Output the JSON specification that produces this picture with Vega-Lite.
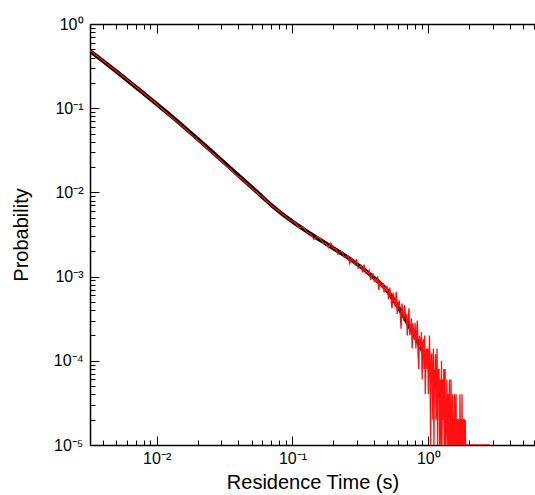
{
  "$schema": "https://vega.github.io/schema/vega-lite/v6.json",
  "width": 445,
  "height": 421,
  "autosize": {"type": "none"},
  "padding": {"left": 90, "top": 24, "right": 0, "bottom": 50},
  "background": "white",
  "config": {
    "view": {"stroke": null},
    "font": "Liberation Sans",
    "axis": {
      "grid": false,
      "domainColor": "black",
      "domainWidth": 1.5,
      "tickColor": "black",
      "tickWidth": 1,
      "labelColor": "black",
      "titleColor": "black",
      "labelFont": "Liberation Sans",
      "titleFont": "Liberation Sans",
      "labelFontSize": 16,
      "titleFontSize": 20,
      "titleFontWeight": "normal",
      "labelFlush": false,
      "labelOverlap": false
    }
  },
  "datasets": {
    "fit": [
      {"t": 0.003228, "p": 0.4775},
      {"t": 0.004932, "p": 0.2818},
      {"t": 0.007534, "p": 0.1626},
      {"t": 0.01318, "p": 0.0776},
      {"t": 0.02339, "p": 0.0346},
      {"t": 0.04102, "p": 0.01536},
      {"t": 0.05478, "p": 0.01011},
      {"t": 0.07178, "p": 0.0068},
      {"t": 0.1007, "p": 0.004452},
      {"t": 0.1346, "p": 0.003251},
      {"t": 0.1986, "p": 0.002188},
      {"t": 0.2786, "p": 0.001532},
      {"t": 0.3917, "p": 0.000989},
      {"t": 0.4966, "p": 0.000685},
      {"t": 0.6194, "p": 0.000401},
      {"t": 0.7709, "p": 0.000214},
      {"t": 0.9772, "p": 0.0001023},
      {"t": 1.159, "p": 0.0000489},
      {"t": 1.327, "p": 0.0000261},
      {"t": 1.496, "p": 0.0000143},
      {"t": 1.574, "p": 0.0000109}
    ],
    "data": [
      {"t": 0.0032, "p": 0.49}, {"t": 0.0064, "p": 0.203}, {"t": 0.0096, "p": 0.1185}, {"t": 0.0128, "p": 0.0787},
      {"t": 0.016, "p": 0.0584}, {"t": 0.0192, "p": 0.0444}, {"t": 0.0224, "p": 0.0361}, {"t": 0.0256, "p": 0.0293},
      {"t": 0.0288, "p": 0.0251}, {"t": 0.032, "p": 0.0211}, {"t": 0.0352, "p": 0.0187}, {"t": 0.0384, "p": 0.0161},
      {"t": 0.0416, "p": 0.0149}, {"t": 0.0448, "p": 0.0132}, {"t": 0.048, "p": 0.0121}, {"t": 0.0512, "p": 0.0108},
      {"t": 0.0544, "p": 0.0101}, {"t": 0.0576, "p": 0.0092}, {"t": 0.0608, "p": 0.0087}, {"t": 0.064, "p": 0.0079},
      {"t": 0.0672, "p": 0.0075}, {"t": 0.0704, "p": 0.0069}, {"t": 0.0736, "p": 0.0066}, {"t": 0.0768, "p": 0.0062},
      {"t": 0.08, "p": 0.006}, {"t": 0.0832, "p": 0.0056}, {"t": 0.0864, "p": 0.0054}, {"t": 0.0896, "p": 0.0051},
      {"t": 0.0928, "p": 0.0049}, {"t": 0.096, "p": 0.0047}, {"t": 0.0992, "p": 0.0046},
      {"t": 0.104, "p": 0.00438}, {"t": 0.112, "p": 0.0038}, {"t": 0.12, "p": 0.00388}, {"t": 0.128, "p": 0.00336},
      {"t": 0.136, "p": 0.00322}, {"t": 0.144, "p": 0.00277}, {"t": 0.152, "p": 0.00297}, {"t": 0.16, "p": 0.00285},
      {"t": 0.168, "p": 0.00248}, {"t": 0.176, "p": 0.00249}, {"t": 0.184, "p": 0.00221}, {"t": 0.192, "p": 0.0025},
      {"t": 0.2, "p": 0.00215}, {"t": 0.208, "p": 0.00216}, {"t": 0.216, "p": 0.00184}, {"t": 0.224, "p": 0.00197},
      {"t": 0.232, "p": 0.00199}, {"t": 0.24, "p": 0.0017}, {"t": 0.248, "p": 0.00172}, {"t": 0.256, "p": 0.00178},
      {"t": 0.264, "p": 0.00143}, {"t": 0.272, "p": 0.00165}, {"t": 0.28, "p": 0.00155}, {"t": 0.288, "p": 0.00142},
      {"t": 0.296, "p": 0.00157}, {"t": 0.304, "p": 0.00126}, {"t": 0.312, "p": 0.00132}, {"t": 0.32, "p": 0.00136},
      {"t": 0.328, "p": 0.00112}, {"t": 0.336, "p": 0.00139}, {"t": 0.344, "p": 0.00111}, {"t": 0.352, "p": 0.00116},
      {"t": 0.36, "p": 0.00108}, {"t": 0.368, "p": 0.00118}, {"t": 0.376, "p": 0.000912}, {"t": 0.384, "p": 0.00106},
      {"t": 0.392, "p": 0.00108}, {"t": 0.4, "p": 0.000885}, {"t": 0.408, "p": 0.000943}, {"t": 0.416, "p": 0.000847},
      {"t": 0.424, "p": 0.001007}, {"t": 0.432, "p": 0.000694}, {"t": 0.44, "p": 0.000869}, {"t": 0.448, "p": 0.000818},
      {"t": 0.456, "p": 0.000751}, {"t": 0.464, "p": 0.000842}, {"t": 0.472, "p": 0.000649}, {"t": 0.48, "p": 0.000766},
      {"t": 0.488, "p": 0.000663}, {"t": 0.496, "p": 0.000776},
      {"t": 0.5, "p": 0.00072}, {"t": 0.51, "p": 0.00054}, {"t": 0.52, "p": 0.00074}, {"t": 0.53, "p": 0.00058},
      {"t": 0.54, "p": 0.00042}, {"t": 0.55, "p": 0.00064}, {"t": 0.56, "p": 0.00056}, {"t": 0.57, "p": 0.00044},
      {"t": 0.58, "p": 0.00066}, {"t": 0.59, "p": 0.00036}, {"t": 0.6, "p": 0.00046}, {"t": 0.61, "p": 0.00052},
      {"t": 0.62, "p": 0.00038}, {"t": 0.63, "p": 0.00024}, {"t": 0.64, "p": 0.00048}, {"t": 0.65, "p": 0.00038},
      {"t": 0.66, "p": 0.0003}, {"t": 0.67, "p": 0.00046}, {"t": 0.68, "p": 0.00032}, {"t": 0.69, "p": 0.00036},
      {"t": 0.7, "p": 0.0002}, {"t": 0.71, "p": 0.00032}, {"t": 0.72, "p": 0.00042}, {"t": 0.73, "p": 0.0002},
      {"t": 0.74, "p": 0.00024}, {"t": 0.75, "p": 0.00032}, {"t": 0.76, "p": 0.00014}, {"t": 0.77, "p": 0.00028},
      {"t": 0.78, "p": 0.00022}, {"t": 0.79, "p": 0.00018}, {"t": 0.8, "p": 0.00028}, {"t": 0.81, "p": 0.00014},
      {"t": 0.82, "p": 0.00022}, {"t": 0.83, "p": 0.0003}, {"t": 0.84, "p": 0.00012}, {"t": 0.85, "p": 0.00008},
      {"t": 0.86, "p": 0.0002}, {"t": 0.87, "p": 0.00016}, {"t": 0.88, "p": 0.00014}, {"t": 0.89, "p": 0.00022},
      {"t": 0.9, "p": 0.00006}, {"t": 0.91, "p": 0.00016}, {"t": 0.92, "p": 0.00018}, {"t": 0.93, "p": 0.00008},
      {"t": 0.94, "p": 0.0002}, {"t": 0.95, "p": 0.00004}, {"t": 0.96, "p": 0.00012}, {"t": 0.97, "p": 0.00014},
      {"t": 0.98, "p": 0.00008}, {"t": 0.99, "p": 0.00014}, {"t": 1.0, "p": 0.00004}, {"t": 1.01, "p": 0.0001},
      {"t": 1.02, "p": 0.0002}, {"t": 1.03, "p": 0.00006}, {"t": 1.04, "p": 0.00001}, {"t": 1.05, "p": 0.00012},
      {"t": 1.06, "p": 0.00012}, {"t": 1.07, "p": 0.00006}, {"t": 1.08, "p": 0.00002}, {"t": 1.09, "p": 0.00014},
      {"t": 1.1, "p": 0.00001}, {"t": 1.11, "p": 0.00008}, {"t": 1.12, "p": 0.00006}, {"t": 1.13, "p": 0.00012},
      {"t": 1.14, "p": 0.00002}, {"t": 1.15, "p": 0.00004}, {"t": 1.16, "p": 0.00014}, {"t": 1.17, "p": 0.00001},
      {"t": 1.18, "p": 0.00008}, {"t": 1.19, "p": 0.00004}, {"t": 1.2, "p": 0.00008}, {"t": 1.21, "p": 0.00001},
      {"t": 1.22, "p": 0.00006}, {"t": 1.23, "p": 0.00004}, {"t": 1.24, "p": 0.00001}, {"t": 1.25, "p": 0.0001},
      {"t": 1.26, "p": 0.00001}, {"t": 1.27, "p": 0.00004}, {"t": 1.28, "p": 0.00006}, {"t": 1.29, "p": 0.00002},
      {"t": 1.3, "p": 0.00008}, {"t": 1.31, "p": 0.00001}, {"t": 1.32, "p": 0.00004}, {"t": 1.33, "p": 0.00008},
      {"t": 1.34, "p": 0.00001}, {"t": 1.35, "p": 0.00001}, {"t": 1.36, "p": 0.00002}, {"t": 1.37, "p": 0.00006},
      {"t": 1.38, "p": 0.00002}, {"t": 1.39, "p": 0.00001}, {"t": 1.4, "p": 0.00004}, {"t": 1.41, "p": 0.00004},
      {"t": 1.42, "p": 0.00001}, {"t": 1.43, "p": 0.00006}, {"t": 1.44, "p": 0.00001}, {"t": 1.45, "p": 0.00002},
      {"t": 1.46, "p": 0.00001}, {"t": 1.47, "p": 0.00006}, {"t": 1.48, "p": 0.00001}, {"t": 1.49, "p": 0.00002},
      {"t": 1.5, "p": 0.00001}, {"t": 1.51, "p": 0.00004}, {"t": 1.52, "p": 0.00001}, {"t": 1.53, "p": 0.00002},
      {"t": 1.54, "p": 0.00002}, {"t": 1.55, "p": 0.00001}, {"t": 1.56, "p": 0.00004}, {"t": 1.57, "p": 0.00001},
      {"t": 1.58, "p": 0.00002}, {"t": 1.59, "p": 0.00001}, {"t": 1.6, "p": 0.00004}, {"t": 1.61, "p": 0.00001},
      {"t": 1.62, "p": 0.00001}, {"t": 1.63, "p": 0.00002}, {"t": 1.64, "p": 0.00001}, {"t": 1.65, "p": 0.00002},
      {"t": 1.66, "p": 0.00002}, {"t": 1.67, "p": 0.00001}, {"t": 1.68, "p": 0.00002}, {"t": 1.69, "p": 0.00001},
      {"t": 1.7, "p": 0.00001}, {"t": 1.71, "p": 0.00004}, {"t": 1.72, "p": 0.00001}, {"t": 1.73, "p": 0.00001},
      {"t": 1.74, "p": 0.00002}, {"t": 1.75, "p": 0.00002}, {"t": 1.76, "p": 0.00001}, {"t": 1.77, "p": 0.00004},
      {"t": 1.78, "p": 0.00001}, {"t": 1.79, "p": 0.00001}, {"t": 1.8, "p": 0.00002}, {"t": 1.81, "p": 0.00001},
      {"t": 1.82, "p": 0.00002}, {"t": 1.83, "p": 0.00002}, {"t": 1.84, "p": 0.00001}, {"t": 1.85, "p": 0.00001},
      {"t": 1.86, "p": 0.00001}, {"t": 1.87, "p": 0.00002}, {"t": 1.88, "p": 0.00001}, {"t": 1.89, "p": 0.00001},
      {"t": 2.85, "p": 0.00001}
    ]
  },
  "encoding": {
    "y": {
      "field": "p",
      "type": "quantitative",
      "scale": {"type": "log", "domain": [0.00001, 1], "nice": false},
      "axis": {
        "orient": "left",
        "title": "Probability",
        "titlePadding": 22,
        "values": [0.00001, 0.00002, 0.00003, 0.00004, 0.00005, 0.00006, 0.00007, 0.00008, 0.00009,
                   0.0001, 0.0002, 0.0003, 0.0004, 0.0005, 0.0006, 0.0007, 0.0008, 0.0009,
                   0.001, 0.002, 0.003, 0.004, 0.005, 0.006, 0.007, 0.008, 0.009,
                   0.01, 0.02, 0.03, 0.04, 0.05, 0.06, 0.07, 0.08, 0.09,
                   0.1, 0.2, 0.3, 0.4, 0.5, 0.6, 0.7, 0.8, 0.9, 1],
        "labelExpr": "abs(log(datum.value)/LN10 - round(log(datum.value)/LN10)) < 0.001 ? '10' + ['⁰','⁻¹','⁻²','⁻³','⁻⁴','⁻⁵'][-round(log(datum.value)/LN10)] : ''",
        "tickSize": {"condition": {"test": "abs(log(datum.value)/LN10 - round(log(datum.value)/LN10)) < 0.001", "value": -9}, "value": -5},
        "labelPadding": 16
      }
    }
  },
  "layer": [
    {
      "data": {"name": "fit"},
      "mark": {"type": "line", "color": "black", "strokeWidth": 4, "interpolate": "monotone", "clip": true},
      "encoding": {
        "x": {
          "field": "t",
          "type": "quantitative",
          "scale": {"type": "log", "domain": [0.00323, 6.1], "nice": false},
          "axis": {
            "orient": "bottom",
            "title": "Residence Time (s)",
            "titlePadding": 2,
            "values": [0.004, 0.005, 0.006, 0.007, 0.008, 0.009,
                       0.01, 0.02, 0.03, 0.04, 0.05, 0.06, 0.07, 0.08, 0.09,
                       0.1, 0.2, 0.3, 0.4, 0.5, 0.6, 0.7, 0.8, 0.9,
                       1, 2, 3, 4, 5, 6],
            "labelExpr": "abs(log(datum.value)/LN10 - round(log(datum.value)/LN10)) < 0.001 ? '10' + ['⁰','⁻¹','⁻²','⁻³','⁻⁴','⁻⁵'][-round(log(datum.value)/LN10)] : ''",
            "tickSize": {"condition": {"test": "abs(log(datum.value)/LN10 - round(log(datum.value)/LN10)) < 0.001", "value": -9}, "value": -5},
            "labelPadding": 14
          }
        }
      }
    },
    {
      "data": {"name": "data"},
      "mark": {"type": "line", "color": "#ff1010", "strokeWidth": 1.3, "clip": true},
      "encoding": {
        "x": {
          "field": "t",
          "type": "quantitative",
          "scale": {"type": "log", "domain": [0.00323, 6.1], "nice": false},
          "axis": {
            "orient": "top",
            "title": null,
            "labels": false,
            "values": [0.004, 0.005, 0.006, 0.007, 0.008, 0.009,
                       0.01, 0.02, 0.03, 0.04, 0.05, 0.06, 0.07, 0.08, 0.09,
                       0.1, 0.2, 0.3, 0.4, 0.5, 0.6, 0.7, 0.8, 0.9,
                       1, 2, 3, 4, 5, 6],
            "tickSize": {"condition": {"test": "abs(log(datum.value)/LN10 - round(log(datum.value)/LN10)) < 0.001", "value": -9}, "value": -5}
          }
        }
      }
    }
  ],
  "resolve": {"axis": {"x": "independent"}}
}
